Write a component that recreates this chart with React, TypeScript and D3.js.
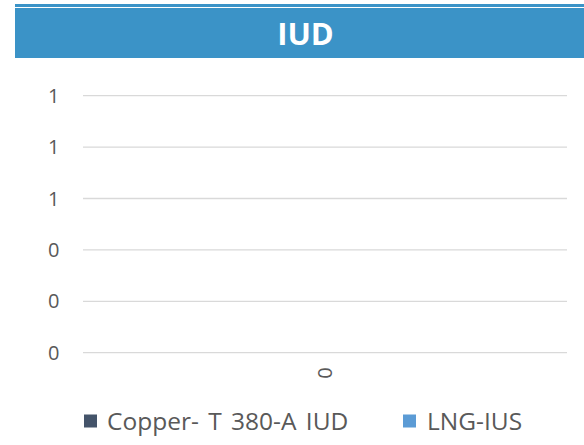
import React from "react";
import * as d3 from "d3";

const title = "IUD";
const categories = ["0"];
const seriesNames = ["Copper- T 380-A IUD", "LNG-IUS"];
const copperValues = [0];
const lngValues = [0];
const yTicks = [0, 0.2, 0.4, 0.6, 0.8, 1];
const seriesColors = ["#44546a", "#5b9bd5"];

export default function App() {
  const W = 584, H = 445;
  const x0 = 83, x1 = 567, yTop = 95.7, yBot = 352.7;
  const y = d3.scaleLinear().domain([0, 1]).range([yBot, yTop]);
  const x = d3.scaleBand().domain(categories).range([x0, x1]);
  const xs = d3.scaleBand().domain(seriesNames).range([0, x.bandwidth()]).paddingInner(0).paddingOuter(2);
  const fmt = d3.format(".0f");
  const series = [copperValues, lngValues];
  const font = "'Open Sans', sans-serif";
  const textColor = "#595959";
  const legendItems = [
    { name: seriesNames[0], sx: 84, tx: 107 },
    { name: seriesNames[1], sx: 403, tx: 427 },
  ];
  return (
    <svg width={W} height={H} style={{ position: "absolute", left: 0, top: 0 }}>
      <rect x={0} y={0} width={W} height={H} fill="#fff" />
      <rect x={15} y={4} width={W - 15} height={3} fill="#3b93c7" />
      <rect x={15} y={8} width={W - 15} height={50} fill="#3b93c7" />
      <text x={305.5} y={45} textAnchor="middle" fill="#fff" fontFamily={font} fontWeight="bold" fontSize={31}>{title}</text>
      {yTicks.map((t) => (
        <g key={t}>
          <line x1={x0} x2={x1} y1={y(t)} y2={y(t)} stroke="#d9d9d9" strokeWidth={1.3} />
          <text x={59.5} y={y(t)} dy="0.35em" textAnchor="end" fill={textColor} fontFamily={font} fontSize={20}>{fmt(t)}</text>
        </g>
      ))}
      {categories.map((c, i) => (
        <g key={c}>
          {series.map((vals, si) => (
            <rect key={si} x={(x(c) as number) + (xs(seriesNames[si]) as number)} width={xs.bandwidth()}
              y={y(vals[i])} height={y(0) - y(vals[i])} fill={seriesColors[si]} />
          ))}
          <text transform={`translate(${(x(c) as number) + x.bandwidth() / 2},373) rotate(-90)`} textAnchor="middle" dy="0.35em"
            fill={textColor} fontFamily={font} fontSize={20}>{c}</text>
        </g>
      ))}
      {legendItems.map((l, i) => (
        <g key={l.name}>
          <rect x={l.sx} y={414.5} width={13} height={13} fill={seriesColors[i]} />
          <text x={l.tx} y={421} dy="0.35em" fill={textColor} fontFamily={font} fontSize={24.5} wordSpacing={3}>{l.name}</text>
        </g>
      ))}
    </svg>
  );
}
